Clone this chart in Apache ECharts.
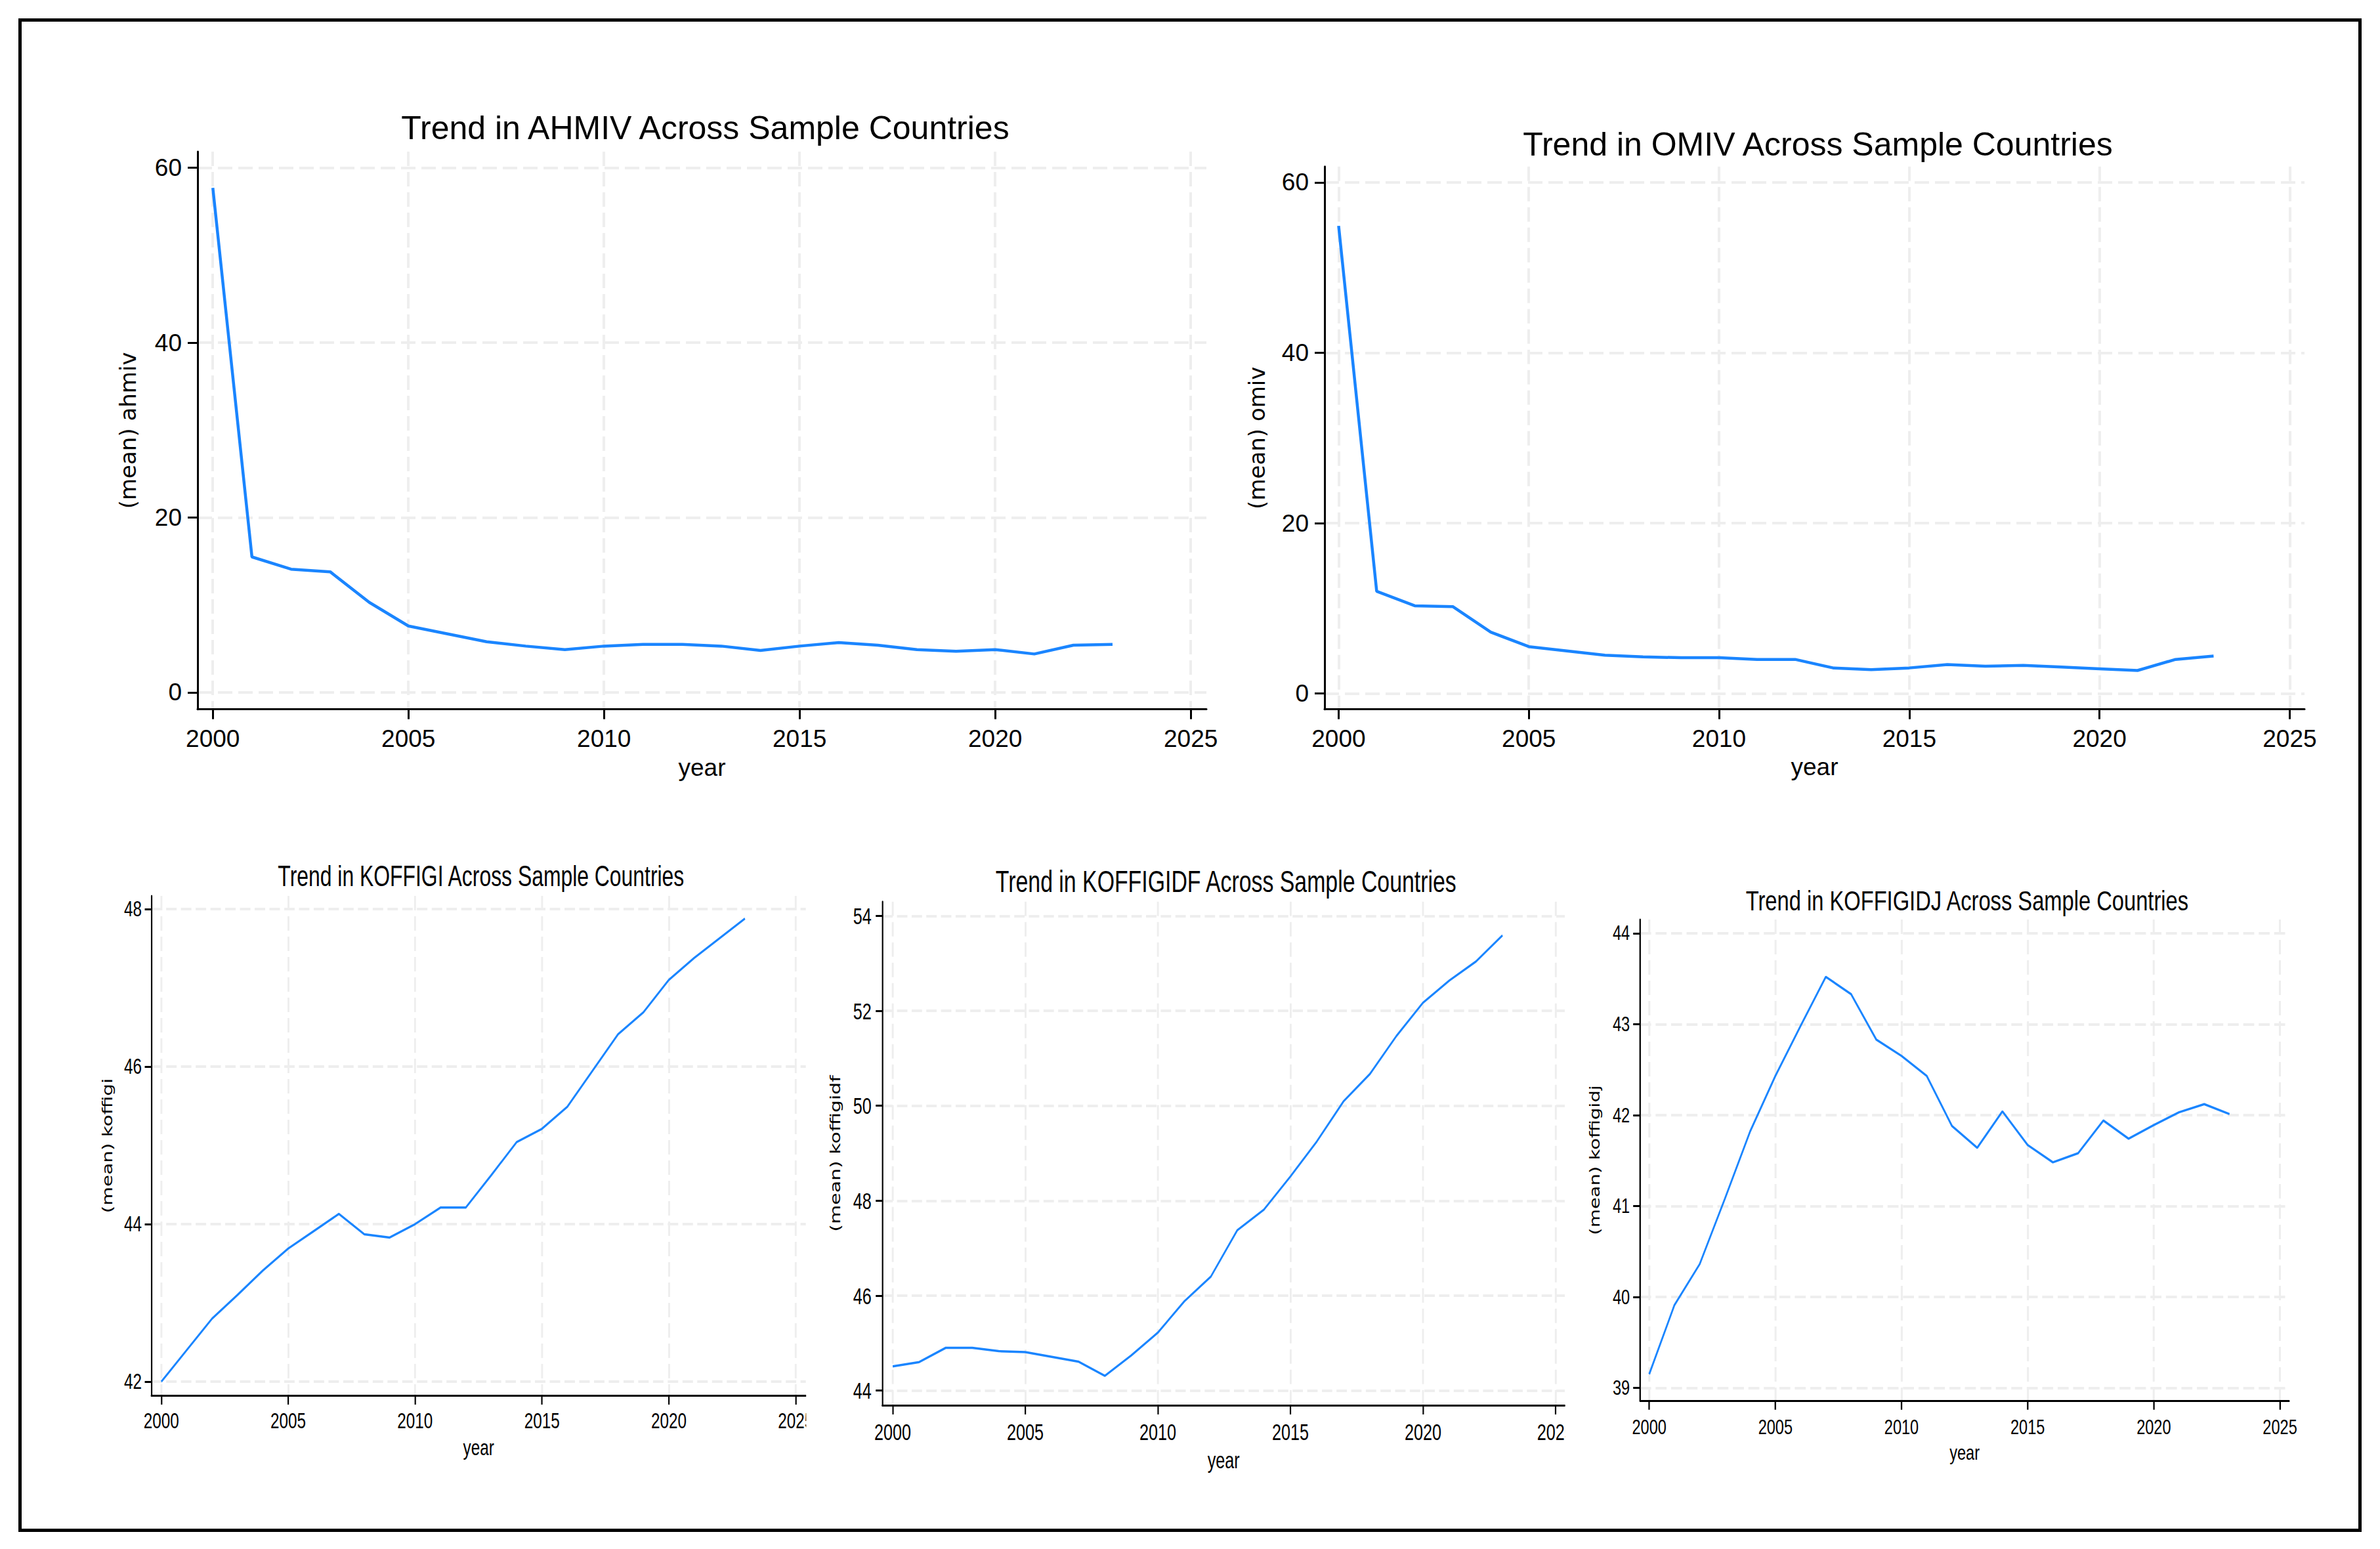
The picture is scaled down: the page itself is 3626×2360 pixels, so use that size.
<!DOCTYPE html>
<html><head><meta charset="utf-8">
<script src="https://cdn.jsdelivr.net/npm/echarts@6/dist/echarts.min.js"></script>
<style>
html,body{margin:0;padding:0;background:#fff;width:3626px;height:2360px;overflow:hidden;position:relative}
#frame{position:absolute;left:28px;top:28px;width:3570px;height:2306px;border:5px solid #000;box-sizing:border-box}
.panel{position:absolute;overflow:hidden;transform-origin:0 0}
</style></head><body>
<div id="frame"></div>
<script>
// ---- data ----
const years = [2000,2001,2002,2003,2004,2005,2006,2007,2008,2009,2010,2011,2012,2013,2014,2015,2016,2017,2018,2019,2020,2021,2022,2023];
const ahmiv = [57.7,15.5,14.1,13.8,10.3,7.6,6.7,5.8,5.3,4.9,5.3,5.5,5.5,5.3,4.8,5.3,5.7,5.4,4.9,4.7,4.9,4.4,5.4,5.5];
const omiv = [54.9,12.0,10.3,10.2,7.2,5.5,5.0,4.5,4.3,4.2,4.2,4.0,4.0,3.0,2.8,3.0,3.4,3.2,3.3,3.1,2.9,2.7,4.0,4.4];
const koffigi = [42.0,42.4,42.8,43.1,43.41,43.69,43.91,44.13,43.87,43.83,44.0,44.21,44.21,44.62,45.04,45.21,45.49,45.95,46.41,46.69,47.10,47.38,47.63,47.88];
const koffigidf = [44.51,44.60,44.90,44.90,44.83,44.81,44.71,44.61,44.31,44.74,45.22,45.88,46.40,47.38,47.81,48.51,49.25,50.09,50.67,51.47,52.17,52.64,53.04,53.59];
const koffigidj = [39.15,39.91,40.36,41.08,41.82,42.43,42.98,43.52,43.33,42.83,42.65,42.43,41.88,41.64,42.04,41.67,41.48,41.58,41.94,41.74,41.89,42.03,42.12,42.01];
const yearTicks = [2000,2005,2010,2015,2020,2025];
const ahmivTicks = [0,20,40,60];
const omivTicks = [0,20,40,60];
const koffigiTicks = [42,44,46,48];
const koffigidfTicks = [44,46,48,50,52,54];
const koffigidjTicks = [39,40,41,42,43,44];
const titles = ['Trend in AHMIV Across Sample Countries','Trend in OMIV Across Sample Countries','Trend in KOFFIGI Across Sample Countries','Trend in KOFFIGIDF Across Sample Countries','Trend in KOFFIGIDJ Across Sample Countries'];
const yNames = ['(mean) ahmiv','(mean) omiv','(mean) koffigi','(mean) koffigidf','(mean) koffigidj'];
const xName = 'year';

// ---- layout (visual page pixels) ----
const panels = [
 {vals:ahmiv, ticks:ahmivTicks, x0:40, x1:1860, y0:40, y1:1262, sx:1, gl:301, gr:1838, gt:231, gb:1080.7, xr:[1999.61,2025.4], yr:[-1.93,61.85], cy:190, tf:50, tk:37, ynf:34, yng:89, xnf:37, xng:70, ylm:24, xlm:26, tl:15, lw:4.5},
 {vals:omiv, ticks:omivTicks, x0:1862, x1:3580, y0:40, y1:1262, sx:1, gl:2018, gr:3511, gt:253.8, gb:1080.7, xr:[1999.63,2025.39], yr:[-1.86,61.86], cy:215, tf:50, tk:37, ynf:34, yng:86, xnf:37, xng:69, ylm:24, xlm:26, tl:15, lw:4.5},
 {vals:koffigi, ticks:koffigiTicks, x0:40, x1:1228, y0:1280, y1:2300, sx:0.725, gl:230.7, gr:1227.7, gt:1365, gb:2126, xr:[1999.61,2025.4], yr:[41.825,48.167], cy:1330, tf:44, tk:33.5, ynf:29.5, yng:77, xnf:33.5, xng:63, ylm:20.3, xlm:22, tl:14, lw:3.5},
 {vals:koffigidf, ticks:koffigidfTicks, x0:1232, x1:2384.5, y0:1280, y1:2300, sx:0.72, gl:1344.3, gr:2384, gt:1373.75, gb:2141, xr:[1999.61,2025.35], yr:[43.69,54.30], cy:1338, tf:47, tk:35, ynf:30, yng:84, xnf:35, xng:65.4, ylm:23, xlm:22.4, tl:14, lw:3.5},
 {vals:koffigidj, ticks:koffigidjTicks, x0:2392, x1:3575, y0:1280, y1:2300, sx:0.76, gl:2498.8, gr:3487.4, gt:1401, gb:2133.8, xr:[1999.64,2025.36], yr:[38.86,44.15], cy:1367, tf:43, tk:31, ynf:29, yng:77, xnf:31, xng:64.4, ylm:20.5, xlm:24.6, tl:14, lw:3.5}
];

const SANS = "'Liberation Sans', Arial, Helvetica, sans-serif";
const WIDE = "'DejaVu Sans', Verdana, sans-serif";
const GRIDLINE = {color:'#eeeeee', width:4, type:[22,9]};

panels.forEach((p, i) => {
  const w = (p.x1 - p.x0) / p.sx, h = p.y1 - p.y0;
  const div = document.createElement('div');
  div.className = 'panel';
  div.style.left = p.x0 + 'px'; div.style.top = p.y0 + 'px';
  div.style.width = w + 'px'; div.style.height = h + 'px';
  div.style.transform = 'scaleX(' + p.sx + ')';
  document.body.appendChild(div);
  const chart = echarts.init(div, null, {renderer:'svg', width:w, height:h});
  const gl = (p.gl - p.x0) / p.sx, gw = (p.gr - p.gl) / p.sx;
  const gt = p.gt - p.y0, gh = p.gb - p.gt;
  const axisLine = {show:true, onZero:false, lineStyle:{color:'#000', width:3}};
  chart.setOption({
    animation:false,
    title:{text:titles[i], left: gl + gw/2, top: p.cy - p.y0 - p.tf/2, textAlign:'center',
      textStyle:{fontFamily:SANS, fontSize:p.tf, fontWeight:'normal', color:'#000', lineHeight:p.tf}},
    grid:{left:gl, top:gt, width:gw, height:gh, containLabel:false, outerBoundsMode:'none'},
    xAxis:{type:'value', min:p.xr[0], max:p.xr[1], name:xName, nameLocation:'middle', nameGap:p.xng, nameMoveOverlap:false,
      nameTextStyle:{fontFamily:SANS, fontSize:p.xnf, color:'#000'},
      axisLine:axisLine,
      axisTick:{show:true, inside:false, length:p.tl, customValues:yearTicks, lineStyle:{color:'#000', width:3}},
      axisLabel:{show:true, customValues:yearTicks, margin:p.xlm, fontFamily:SANS, fontSize:p.tk, color:'#000', formatter:v=>String(v), hideOverlap:false},
      splitLine:{show:true, lineStyle:GRIDLINE}},
    yAxis:{type:'value', min:p.yr[0], max:p.yr[1], name:yNames[i], nameLocation:'middle', nameGap:p.yng, nameMoveOverlap:false,
      nameTextStyle:{fontFamily:WIDE, fontSize:p.ynf, color:'#000'},
      axisLine:axisLine,
      axisTick:{show:true, inside:false, length:p.tl, customValues:p.ticks, lineStyle:{color:'#000', width:3}},
      axisLabel:{show:true, customValues:p.ticks, margin:p.ylm, fontFamily:SANS, fontSize:p.tk, color:'#000', formatter:v=>String(v), hideOverlap:false},
      splitLine:{show:true, lineStyle:GRIDLINE}},
    series:[{type:'line', data:years.map((y,k)=>[y, p.vals[k]]), showSymbol:false, symbol:'none',
      lineStyle:{color:'#1a85ff', width:p.lw}, itemStyle:{color:'#1a85ff'}, z:5}]
  });
});
</script>
</body></html>
